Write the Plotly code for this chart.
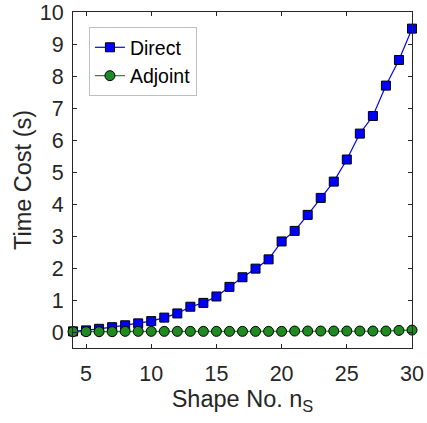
import plotly.graph_objects as go

# Number of shapes and measured run times (seconds)
shape_no = list(range(4, 31))
direct = [0.02, 0.05, 0.10, 0.15, 0.21, 0.27, 0.34, 0.45, 0.58, 0.79, 0.91,
          1.11, 1.41, 1.71, 1.98, 2.27, 2.83, 3.16, 3.66, 4.19, 4.70, 5.39,
          6.20, 6.75, 7.70, 8.50, 9.48]
adjoint = [0.01, 0.01, 0.01, 0.01, 0.02, 0.02, 0.02, 0.02, 0.02, 0.02, 0.02,
           0.02, 0.02, 0.02, 0.02, 0.02, 0.02, 0.03, 0.03, 0.03, 0.03, 0.03,
           0.03, 0.03, 0.03, 0.05, 0.06]

x_ticks = [5, 10, 15, 20, 25, 30]
y_ticks = list(range(0, 11))

font_family = "Liberation Sans, Arial, sans-serif"
axis_color = "#262626"

fig = go.Figure()
fig.add_trace(go.Scatter(
    x=shape_no, y=direct, name="Direct", mode="lines+markers",
    line=dict(color="#0000ff", width=1.2),
    marker=dict(symbol="square", size=9, color="#0000ff",
                line=dict(color="#000000", width=1)),
    cliponaxis=False,
))
fig.add_trace(go.Scatter(
    x=shape_no, y=adjoint, name="Adjoint", mode="lines+markers",
    line=dict(color="#1f8a1f", width=1.2),
    marker=dict(symbol="circle", size=10, color="#1f8a1f",
                line=dict(color="#000000", width=1)),
    cliponaxis=False,
))

axis_common = dict(
    showline=True, linecolor=axis_color, linewidth=1,
    mirror="allticks", ticks="inside", ticklen=4, tickcolor=axis_color,
    tickwidth=1, showgrid=False, zeroline=False, automargin=False,
    tickfont=dict(family=font_family, size=21.5, color=axis_color),
)

fig.update_layout(
    width=427, height=423,
    margin=dict(l=73, r=15, t=12, b=75),
    paper_bgcolor="white", plot_bgcolor="white",
    font=dict(family=font_family, size=21, color=axis_color),
    xaxis=dict(range=[4, 30], tickvals=x_ticks, ticklabelstandoff=6,
               title=dict(text="Shape No. n<sub>S</sub>",
                          font=dict(family=font_family, size=23.5, color=axis_color),
                          standoff=4),
               **axis_common),
    yaxis=dict(range=[-0.5, 10], tickvals=y_ticks, ticklabelstandoff=4,
               title=dict(text="Time Cost (s)",
                          font=dict(family=font_family, size=23.5, color=axis_color),
                          standoff=1),
               **axis_common),
    legend=dict(x=0.047, y=0.955, xanchor="left", yanchor="top",
                bgcolor="white", bordercolor="#bfbfbf", borderwidth=1,
                font=dict(family=font_family, size=19.5, color="#000000"),
                itemwidth=30, tracegroupgap=0),
    showlegend=True,
)

fig.write_html("out.html")
